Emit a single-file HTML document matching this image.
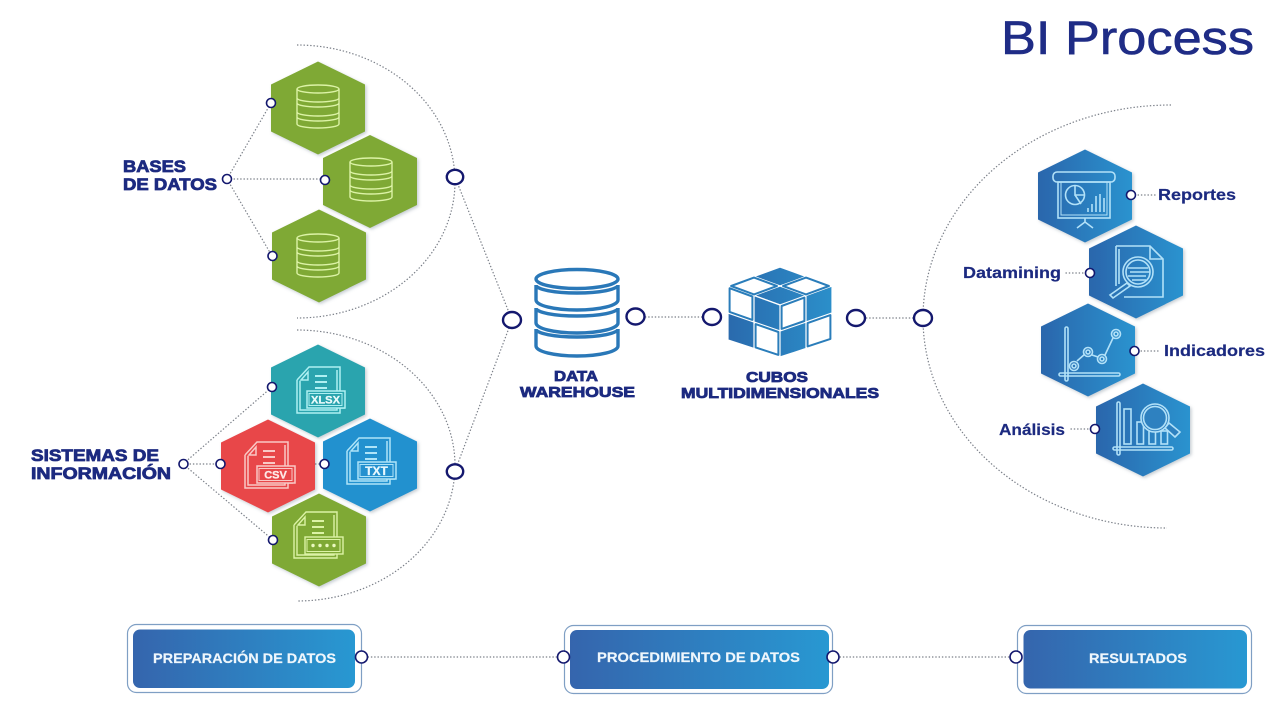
<!DOCTYPE html>
<html><head><meta charset="utf-8"><style>
html,body{margin:0;padding:0;background:#fff;width:1280px;height:720px;overflow:hidden}
svg{display:block}
text{font-family:"Liberation Sans",sans-serif}
.t{font-weight:700;fill:#1c2a80;font-size:17px;stroke:#1c2a80;stroke-width:.8}
.m{font-weight:700;fill:#1c2a80;font-size:16px;stroke:#1c2a80;stroke-width:.2}
.w{font-weight:700;fill:#eef6fc;font-size:14px;stroke:#eef6fc;stroke-width:.2}
.d{fill:none;stroke:#7a7f88;stroke-width:1.2;stroke-dasharray:1.4 1.9}
.n{fill:#fff;stroke:#14186e;stroke-width:1.6}
.N{fill:#fff;stroke:#14186e;stroke-width:2.4}
.g{fill:none;stroke:#dcf3a6;stroke-width:1.4}
.b{fill:none;stroke:#b2e1f8;stroke-width:1.6}
.p{fill:none;stroke:#aef0f2;stroke-width:1.5}
.c{stroke:#2a7dba;stroke-width:2;stroke-linejoin:round}
</style></head><body>
<svg width="1280" height="720" viewBox="0 0 1280 720" xmlns="http://www.w3.org/2000/svg">
<defs>
<linearGradient id="bl" x1="0" y1="0" x2="1" y2="0"><stop offset="0" stop-color="#3565ad"/><stop offset="1" stop-color="#2898d2"/></linearGradient>
<linearGradient id="sl" x1="0" y1="0" x2="1" y2="0"><stop offset="0" stop-color="#2b66ac"/><stop offset="1" stop-color="#2a93cf"/></linearGradient>
<linearGradient id="cu" gradientUnits="userSpaceOnUse" x1="728" y1="0" x2="832" y2="0"><stop offset="0" stop-color="#2a6aad"/><stop offset="1" stop-color="#2b8fca"/></linearGradient>
<filter id="s" x="-10%" y="-10%" width="125%" height="125%"><feDropShadow dx="1.5" dy="1.5" stdDeviation="1.5" flood-color="#5a6f80" flood-opacity=".35"/></filter>
<path id="hex" d="M0-46.500 47-23.500V23.500L0 46.500-47 23.500V-23.500Z"/>
<g id="db" class="g">
<ellipse cx="0" cy="-18" rx="21" ry="4"/>
<path d="M-21-18V-9A21 4 0 0 0 21-9V-18M-21-9V-4A21 4 0 0 0 21-4V-9M-21-4V5A21 4 0 0 0 21 5V-4M-21 5V10A21 4 0 0 0 21 10V5M-21 10V17A21 4 0 0 0 21 17V10"/>
</g>
<g id="docp">
<path d="M-21-10-9-23H22V2M27 18H22V23H-21V-10"/>
<path d="M-18-9V20H19V18M19-20V2"/>
<path d="M-17-10-10-18V-10Z"/>
<path stroke-width="2" d="M-3-14H9M-3-8H9M-3-2H9"/>
</g>
</defs>
<rect width="1280" height="720" fill="#fff"/>

<!-- arcs & connectors -->
<path class="d" d="M297 45A158 136.500 0 0 1 297 318"/>
<path class="d" d="M297 330A158 135.500 0 0 1 297 601"/>
<path class="d" d="M1171 105A248 213 0 0 0 923 318A244 210 0 0 0 1167 528"/>
<path class="d" d="M227 179 271 103M227 179H325M227 179 272 256"/>
<path class="d" d="M183 464 272 387M183 464H324M183 464 273 540"/>
<path class="d" d="M455 177 512 320M455 471 512 320M635 317H712M856 318H923"/>
<path class="d" d="M1131 195H1156M1090 273H1065M1134 351H1160M1095 429H1069"/>
<path class="d" d="M361 657H563M833 657H1016"/>

<!-- hexes -->
<g filter="url(#s)" fill="#7fa935">
<use href="#hex" x="318" y="108"/><use href="#hex" x="370" y="181.500"/><use href="#hex" x="319" y="256"/>
<use href="#hex" x="318" y="391" fill="#2aa4ae"/><use href="#hex" x="268" y="466" fill="#e8474a"/><use href="#hex" x="370" y="465" fill="#2491cf"/><use href="#hex" x="319" y="540"/>
<use href="#hex" x="1085" y="196" fill="url(#sl)"/><use href="#hex" x="1136" y="272" fill="url(#sl)"/><use href="#hex" x="1088" y="350" fill="url(#sl)"/><use href="#hex" x="1143" y="430" fill="url(#sl)"/>
</g>
<use href="#db" x="318" y="107"/><use href="#db" x="371" y="180"/><use href="#db" x="318" y="256"/>

<!-- file icons -->
<g transform="translate(318 390)" class="p"><use href="#docp"/><rect x="-11" y="1" width="38" height="17" fill="#2aa4ae"/><rect x="-9" y="3.500" width="33" height="12" fill="none" stroke-width="1"/><text x="7.500" y="13.500" text-anchor="middle" font-size="11" font-weight="700" fill="#e9fafa" stroke="#e9fafa" stroke-width=".3" textLength="29" lengthAdjust="spacingAndGlyphs">XLSX</text></g>
<g transform="translate(266 465)" style="fill:none;stroke:#f9c9c6;stroke-width:1.500"><use href="#docp"/><rect x="-9" y="1" width="38" height="17" fill="#e8474a"/><rect x="-7" y="3.500" width="33" height="12" fill="none" stroke-width="1"/><text x="9.500" y="13.500" text-anchor="middle" font-size="11" font-weight="700" fill="#fdeae8" stroke="#fdeae8" stroke-width=".3">CSV</text></g>
<g transform="translate(368 461)" style="fill:none;stroke:#aee4f8;stroke-width:1.500"><use href="#docp"/><rect x="-10" y="1" width="38" height="17" fill="#2491cf"/><rect x="-8" y="3.500" width="33" height="12" fill="none" stroke-width="1"/><text x="8.500" y="14" text-anchor="middle" font-size="12" font-weight="700" fill="#e8f8fd" stroke="#e8f8fd" stroke-width=".3">TXT</text></g>
<g transform="translate(315 535)" class="g"><use href="#docp"/><rect x="-10" y="2" width="38" height="17" fill="#7fa935"/><rect x="-8" y="4.500" width="33" height="12" fill="none" stroke-width="1"/><g fill="#eaf8bf" stroke="none"><circle cx="-2" cy="10.500" r="1.700"/><circle cx="5" cy="10.500" r="1.700"/><circle cx="12" cy="10.500" r="1.700"/><circle cx="19" cy="10.500" r="1.700"/></g></g>

<!-- blue icons -->
<g class="b">
<rect x="1053" y="172" width="62" height="10" rx="4"/>
<rect x="1058" y="182" width="52" height="36"/><rect x="1061" y="182" width="46" height="33" stroke-width="1"/>
<circle cx="1075" cy="195" r="9.500"/><path d="M1075 185.500V195H1085M1075 195 1081 204"/>
<path d="M1088 212V208M1092 212V204M1096 212V196M1100 212V194M1104 212V198"/>
<path d="M1085 218V222L1077 228M1085 222 1093 228"/>
</g>
<g class="b">
<path d="M1116 246H1150L1163 259V297H1124M1116 286V246M1150 246V259H1163"/>
<path d="M1119 249V284"/>
<circle cx="1138" cy="272" r="15"/><circle cx="1138" cy="272" r="12"/>
<path d="M1128 268H1148M1130 272H1150M1128 276H1146M1132 280H1146"/>
<path d="M1127 283 1110 295 1113 298 1130 286Z"/>
</g>
<g class="b">
<rect x="1065" y="327" width="3" height="54" rx="1.500"/><rect x="1059" y="373" width="61" height="3" rx="1.500"/>
<path d="M1077 361 1085 354M1092 355 1098 357M1105 355 1113 338"/>
<circle cx="1074" cy="366" r="4.500"/><circle cx="1074" cy="366" r="2"/>
<circle cx="1088" cy="352" r="4.500"/><circle cx="1088" cy="352" r="2"/>
<circle cx="1102" cy="359" r="4.500"/><circle cx="1102" cy="359" r="2"/>
<circle cx="1116" cy="334" r="4.500"/><circle cx="1116" cy="334" r="2"/>
</g>
<g class="b">
<rect x="1117" y="402" width="3" height="53" rx="1.500"/><rect x="1113" y="447" width="60" height="3" rx="1.500"/>
<rect x="1124" y="409" width="7" height="35"/><rect x="1137" y="422" width="6.500" height="22"/><rect x="1149" y="431" width="6.500" height="13"/><rect x="1161" y="431" width="6.500" height="13"/>
<circle cx="1155" cy="418" r="14" fill="#2e81c0"/><circle cx="1155" cy="418" r="11.500"/>
<path d="M1165 428 1175 437 1180 432 1169 423Z" fill="#2e81c0"/>
</g>

<!-- Data warehouse -->
<g fill="none" stroke="#2a78b8" stroke-width="3.400">
<path d="M536 329V346A41 10 0 0 0 618 346V329A41 8 0 0 1 536 329Z"/>
<path d="M536 308V323A41 10 0 0 0 618 323V308A41 8 0 0 1 536 308Z"/>
<path d="M536 285V300A41 10 0 0 0 618 300V285A41 8 0 0 1 536 285Z"/>
<ellipse cx="577" cy="279" rx="41" ry="9.500" fill="#fff"/>
</g>

<!-- cube -->
<g fill="url(#cu)" stroke="#fff" stroke-width="1.200" stroke-linejoin="round">
<polygon points="780,267 806,276.500 780,286 754,276.500"/>
<polygon points="780,305 806,295.500 780,286 754,295.500"/>
<polygon points="754,295.500 780,305 780,331 754,322"/>
<polygon points="728,313 754,322 754,348.500 728,340"/>
<polygon points="806,295.500 832,286 832,313 806,322"/>
<polygon points="780,331 806,322 806,348.500 780,357"/>
</g>
<g class="c" fill="#fff">
<polygon points="806,277.600 828.900,286 806,294.400 783.100,286"/>
<polygon points="754,277.600 776.900,286 754,294.400 731.100,286"/>
<polygon points="729.600,288.200 752.400,296.500 752.400,319.900 729.600,311.900"/>
<polygon points="755.600,324.100 778.400,332 778.400,354.900 755.600,347.400"/>
<polygon points="781.600,306 804.400,297.600 804.400,321 781.600,328.900"/>
<polygon points="807.600,323.100 830.400,315.100 830.400,338.900 807.600,346.400"/>
</g>

<!-- bottom boxes -->
<rect x="127.500" y="624.500" width="234" height="68" rx="9" fill="#fff" stroke="#7f9fc4" stroke-width="1.200"/>
<rect x="133" y="629.500" width="222" height="58.500" rx="7" fill="url(#bl)"/>
<rect x="564.500" y="625.500" width="268" height="68" rx="9" fill="#fff" stroke="#7f9fc4" stroke-width="1.200"/>
<rect x="570" y="630" width="259" height="59" rx="7" fill="url(#bl)"/>
<rect x="1017.500" y="625.500" width="234" height="68" rx="9" fill="#fff" stroke="#7f9fc4" stroke-width="1.200"/>
<rect x="1023.500" y="630" width="223.500" height="58.500" rx="7" fill="url(#bl)"/>

<!-- nodes -->
<g>
<circle class="n" cx="271" cy="103" r="4.500"/><circle class="n" cx="325" cy="180" r="4.500"/><circle class="n" cx="272.500" cy="256" r="4.500"/><circle class="n" cx="227" cy="179" r="4.500"/>
<circle class="n" cx="272" cy="387" r="4.500"/><circle class="n" cx="220.500" cy="464" r="4.500"/><circle class="n" cx="324.500" cy="464" r="4.500"/><circle class="n" cx="273" cy="540" r="4.500"/><circle class="n" cx="183.500" cy="464" r="4.500"/>
<circle class="n" cx="1131" cy="195" r="4.500"/><circle class="n" cx="1090" cy="273" r="4.500"/><circle class="n" cx="1134.500" cy="351" r="4.500"/><circle class="n" cx="1095" cy="429" r="4.500"/>
<circle class="n" cx="361.500" cy="657" r="6"/><circle class="n" cx="563.500" cy="657" r="6"/><circle class="n" cx="833" cy="657" r="6"/><circle class="n" cx="1016" cy="657" r="6"/>
</g>
<ellipse class="N" cx="455" cy="177" rx="8.200" ry="7.200"/><ellipse class="N" cx="455" cy="471.500" rx="8.200" ry="7.200"/>
<ellipse class="N" cx="512" cy="320" rx="9" ry="8"/><ellipse class="N" cx="635.500" cy="316.500" rx="9" ry="8"/>
<ellipse class="N" cx="712" cy="317" rx="9" ry="8"/><ellipse class="N" cx="856" cy="318" rx="9" ry="8"/><ellipse class="N" cx="923" cy="318" rx="9" ry="8"/>

<!-- text -->
<text x="1001" y="54" font-size="47" fill="#1f2c86" stroke="#1f2c86" stroke-width=".6" textLength="253" lengthAdjust="spacingAndGlyphs">BI Process</text>
<text class="t" x="123" y="172" textLength="63" lengthAdjust="spacingAndGlyphs">BASES</text>
<text class="t" x="123" y="190" textLength="94" lengthAdjust="spacingAndGlyphs">DE DATOS</text>
<text class="t" x="31" y="461" textLength="128" lengthAdjust="spacingAndGlyphs">SISTEMAS DE</text>
<text class="t" x="31" y="479" textLength="140" lengthAdjust="spacingAndGlyphs">INFORMACIÓN</text>
<text class="t" x="554" y="381" style="font-size:15px" textLength="44" lengthAdjust="spacingAndGlyphs">DATA</text>
<text class="t" x="520" y="397" style="font-size:15px" textLength="115" lengthAdjust="spacingAndGlyphs">WAREHOUSE</text>
<text class="t" x="746" y="382" style="font-size:15px" textLength="62" lengthAdjust="spacingAndGlyphs">CUBOS</text>
<text class="t" x="681" y="398" style="font-size:15px" textLength="198" lengthAdjust="spacingAndGlyphs">MULTIDIMENSIONALES</text>
<text class="m" x="1158" y="200" textLength="78" lengthAdjust="spacingAndGlyphs">Reportes</text>
<text class="m" x="963" y="278" textLength="98" lengthAdjust="spacingAndGlyphs">Datamining</text>
<text class="m" x="1164" y="356" textLength="101" lengthAdjust="spacingAndGlyphs">Indicadores</text>
<text class="m" x="999" y="435" textLength="66" lengthAdjust="spacingAndGlyphs">Análisis</text>
<text class="w" x="153" y="663" textLength="183" lengthAdjust="spacingAndGlyphs">PREPARACIÓN DE DATOS</text>
<text class="w" x="597" y="662" textLength="203" lengthAdjust="spacingAndGlyphs">PROCEDIMIENTO DE DATOS</text>
<text class="w" x="1089" y="663" textLength="98" lengthAdjust="spacingAndGlyphs">RESULTADOS</text>
</svg>
</body></html>
